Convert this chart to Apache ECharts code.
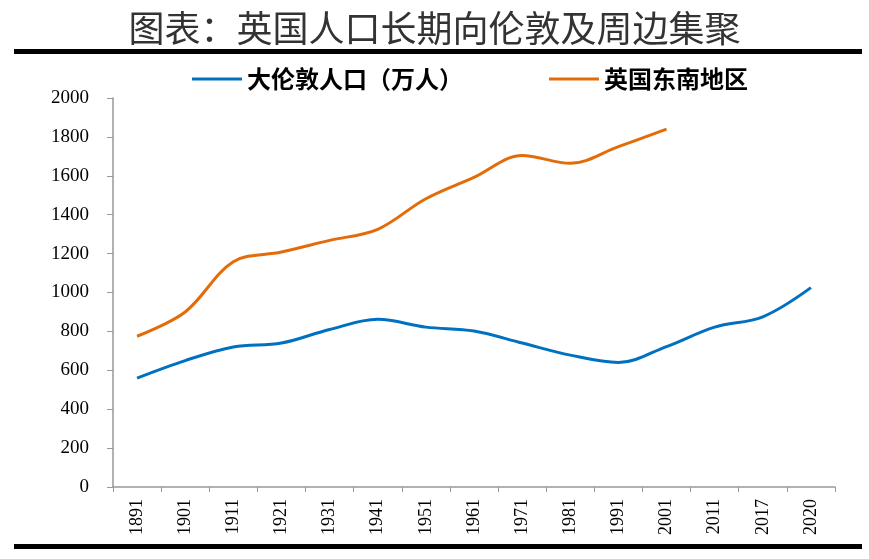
<!DOCTYPE html>
<html>
<head>
<meta charset="utf-8">
<script src="https://cdn.jsdelivr.net/npm/echarts@6/dist/echarts.min.js"></script>
<style>
html,body{margin:0;padding:0;background:#fff;}
#chart{width:869px;height:559px;}
</style>
</head>
<body>
<div id="chart"></div>
<script>
const titleText = '图表：英国人口长期向伦敦及周边集聚';
const years = ['1891','1901','1911','1921','1931','1941','1951','1961','1971','1981','1991','2001','2011','2017','2020'];
const londonName = '大伦敦人口（万人）';
const southEastName = '英国东南地区';
const londonValues = [560, 650, 720, 740, 810, 862, 822, 802, 740, 678, 640, 722, 822, 875, 1025];
const southEastValues = [775, 900, 1158, 1208, 1268, 1325, 1482, 1592, 1705, 1664, 1750, 1840, null, null, null];
const yTicks = { min: 0, max: 2000, interval: 200 };

const chart = echarts.init(document.getElementById('chart'), null, { renderer: 'canvas' });
const serif = '"Liberation Serif", "Times New Roman", serif';
const cjk = '"Noto Sans CJK SC", sans-serif';

chart.setOption({
  animation: false,
  backgroundColor: '#fff',
  title: {
    text: titleText,
    left: 'center',
    top: 5,
    textStyle: { fontFamily: cjk, fontSize: 36, fontWeight: 'normal', color: '#333' }
  },
  graphic: [
    { type: 'rect', shape: { x: 14, y: 49, width: 848, height: 5 }, style: { fill: '#000' } },
    { type: 'rect', shape: { x: 14, y: 544, width: 848, height: 5 }, style: { fill: '#000' } }
  ],
  legend: {
    top: 62,
    left: 187,
    itemWidth: 50,
    itemHeight: 3,
    itemGap: 86,
    icon: 'rect',
    textStyle: { fontFamily: cjk, fontSize: 24, fontWeight: 'bold', color: '#000' },
    data: [londonName, southEastName]
  },
  grid: { left: 113, right: 34, top: 98, bottom: 72, containLabel: false },
  xAxis: {
    type: 'category',
    data: years,
    boundaryGap: true,
    axisLine: { lineStyle: { color: '#999', width: 1.5 } },
    axisTick: { show: true, inside: false, length: 5, lineStyle: { color: '#999' } },
    axisLabel: { rotate: 90, margin: 12, fontFamily: serif, fontSize: 18, color: '#000', interval: 0 }
  },
  yAxis: {
    type: 'value',
    min: yTicks.min,
    max: yTicks.max,
    interval: yTicks.interval,
    splitLine: { show: false },
    axisLine: { show: true, lineStyle: { color: '#999', width: 1.5 } },
    axisTick: { show: true, inside: false, length: 6, lineStyle: { color: '#999' } },
    axisLabel: { margin: 24, fontFamily: serif, fontSize: 19, color: '#000', formatter: function (v) { return String(v); } }
  },
  series: [
    {
      name: londonName,
      type: 'line',
      data: londonValues,
      smooth: 0.35,
      showSymbol: false,
      symbol: 'none',
      lineStyle: { color: '#0070C0', width: 3 },
      itemStyle: { color: '#0070C0' }
    },
    {
      name: southEastName,
      type: 'line',
      data: southEastValues,
      smooth: 0.35,
      showSymbol: false,
      symbol: 'none',
      lineStyle: { color: '#E36C09', width: 3 },
      itemStyle: { color: '#E36C09' }
    }
  ]
});
</script>
</body>
</html>
